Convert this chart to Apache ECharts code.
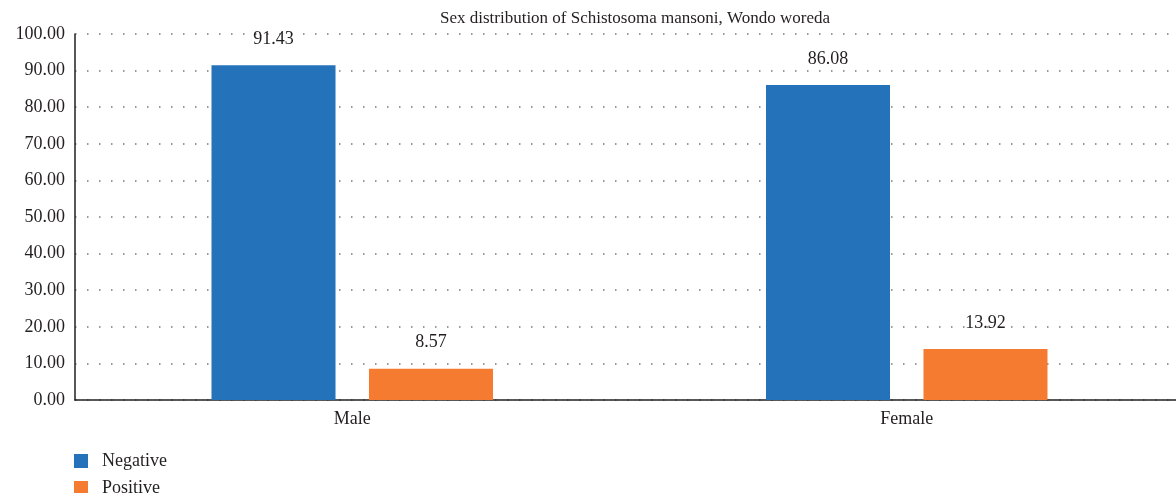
<!DOCTYPE html>
<html>
<head>
<meta charset="utf-8">
<script src="https://cdn.jsdelivr.net/npm/echarts@6/dist/echarts.min.js"></script>
<style>
  html, body { margin: 0; padding: 0; background: #fff; }
  .main { width: 1176px; height: 493px; }
</style>
</head>
<body>
<div class="main"></div>
<script>
  let categories = ['Male', 'Female'];
  let negative = [91.43, 86.08];
  let positive = [8.57, 13.92];
  let seriesNames = ['Negative', 'Positive'];

  /* global echarts: true */
  let myChart = echarts.init(document.querySelector('.main'));

  let font = 'Liberation Serif';

  let legendText = { fontFamily: font, fontSize: 18, color: '#231f20', padding: [0, 0, 0, 9] };

  let option = {
    animation: false,
    textStyle: { fontFamily: font },
    title: {
      text: 'Sex distribution of Schistosoma mansoni, Wondo woreda',
      left: 630,
      top: 5,
      textAlign: 'center',
      textStyle: { fontFamily: font, fontSize: 17, fontWeight: 'normal', color: '#231f20' }
    },
    // one legend per row, stacked like the original
    legend: [{
      data: [seriesNames[0]],
      left: 74, top: 452, padding: 0,
      itemWidth: 14, itemHeight: 14, icon: 'rect',
      textStyle: legendText
    }, {
      data: [seriesNames[1]],
      left: 74, top: 479, padding: 0,
      itemWidth: 14, itemHeight: 14, icon: 'rect',
      textStyle: legendText
    }],
    grid: { left: 75, right: -8, top: 34, bottom: 93, outerBoundsMode: 'none' },
    xAxis: {
      type: 'category',
      data: categories,
      axisLine: { lineStyle: { color: '#231f20', width: 1.5 } },
      axisTick: { show: false },
      axisLabel: { fontFamily: font, fontSize: 18, color: '#231f20', margin: 10 }
    },
    yAxis: {
      type: 'value',
      min: 0,
      max: 100,
      interval: 10,
      axisLine: { show: true, lineStyle: { color: '#231f20', width: 1.5 } },
      axisTick: { show: false },
      axisLabel: {
        fontFamily: font, fontSize: 18, color: '#231f20', margin: 10,
        formatter: v => v.toFixed(2)
      },
      splitLine: { lineStyle: { color: '#777', type: [1.5, 10.5], width: 1.5 } }
    },
    series: [{
      name: seriesNames[0],
      type: 'bar',
      data: negative,
      barWidth: 124,
      barGap: '27%',
      itemStyle: { color: '#2372ba' },
      label: {
        show: true, position: 'top', distance: 17,
        fontFamily: font, fontSize: 18, color: '#231f20',
        formatter: p => p.value.toFixed(2)
      }
    }, {
      name: seriesNames[1],
      type: 'bar',
      data: positive,
      barWidth: 124,
      itemStyle: { color: '#f47b30' },
      label: {
        show: true, position: 'top', distance: 17,
        fontFamily: font, fontSize: 18, color: '#231f20',
        formatter: p => p.value.toFixed(2)
      }
    }]
  };

  myChart.setOption(option);
</script>
</body>
</html>
